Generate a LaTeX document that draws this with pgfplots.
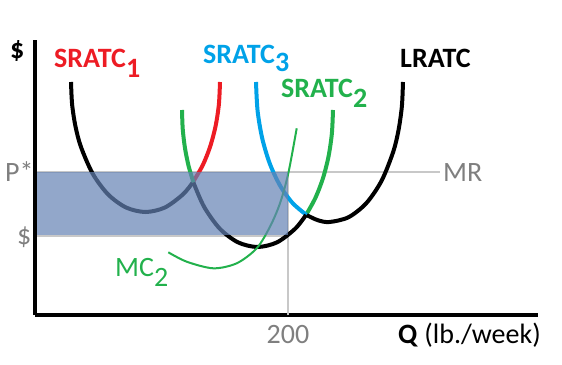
\documentclass[border=0pt]{standalone}
\usepackage{pgfplots}
\pgfplotsset{compat=1.18}
\usepackage{fontspec}
\setmainfont{Carlito}
\definecolor{cred}{HTML}{ED1C24}
\definecolor{cblue}{HTML}{00A2E8}
\definecolor{cgreen}{HTML}{22B14C}
\definecolor{cshade}{RGB}{100,130,180}
\definecolor{cgrayline}{RGB}{200,200,200}
\definecolor{cgraytext}{RGB}{127,127,127}
\newcommand{\lbl}{\fontsize{28}{30}\selectfont}
\begin{document}
\begin{tikzpicture}
\begin{axis}[
  x=1pt, y=1pt,
  xmin=0, xmax=503, ymin=0, ymax=275,
  axis lines=left,
  axis line style={-, line width=3.5pt, black},
  xtick={253}, xticklabels={200},
  ytick=\empty,
  major tick length=0pt,
  xticklabel style={font=\lbl, text=cgraytext, anchor=base, yshift=-28pt, inner sep=0pt},
  clip=false,
  every axis plot/.append style={no markers, smooth},
]
% gray guide lines
\addplot[cgrayline, line width=1.5pt, sharp plot] coordinates {(2,143) (405,143)};
\addplot[cgrayline, line width=1.5pt, sharp plot] coordinates {(2,79) (253,79)};
\addplot[cgrayline, line width=1.5pt, sharp plot] coordinates {(253,0) (253,143)};
% SRATC1 red arm
\addplot[cred, line width=4pt] coordinates {(157.38,131.98) (167.57,149.44) (175.02,168.0) (180.51,188.54) (183.87,210.43) (185.0,233.0)};
% SRATC2 green arms
\addplot[cgreen, line width=4pt] coordinates {(147.0,205.0) (147.73,185.93) (149.92,167.24) (153.53,149.28) (158.48,132.40)};
\addplot[cgreen, line width=4pt] coordinates {(271.03,100.06) (280.33,116.94) (287.88,136.5) (293.45,158.15) (296.85,181.21) (298.0,205.0)};
% SRATC3 blue arm
\addplot[cblue, line width=4pt] coordinates {(221.0,233.0) (222.61,203.89) (227.36,176.06) (235.04,150.71) (245.32,128.97) (257.75,111.76) (271.79,99.85)};
% LRATC envelope (black)
\addplot[black, line width=4pt] coordinates {(36.0,233.0) (37.13,210.43) (40.49,188.54) (45.98,168.0) (57.82,141.08) (73.25,120.42) (91.22,107.43) (110.5,103.0) (129.78,107.43) (147.75,120.42) (157.38,131.98)};
\addplot[black, line width=4pt] coordinates {(158.48,132.40) (169.11,108.13) (184.75,86.36) (202.96,72.67) (222.5,68.0) (242.04,72.67) (260.25,86.36) (271.03,100.06)};
\addplot[black, line width=4pt] coordinates {(271.79,99.85) (283.0,94.72) (294.5,93.0) (313.52,97.77) (331.25,111.76) (346.47,134.01) (358.15,163.0) (363.57,185.12) (366.88,208.70) (368.0,233.0)};
% MC2
\addplot[cgreen, line width=2pt] coordinates {(133.3,62.7) (151.7,53.3) (178.3,46.7) (201.7,51.7) (221.7,66.7) (235,88.3) (245,111.7) (253.3,141.7) (261.7,186.7)};
% shaded profit area
\addplot[draw=none, fill=cshade, fill opacity=0.7, sharp plot] coordinates {(2,79.5) (253,79.5) (253,142.5) (2,142.5)} -- cycle;
% labels
\node[anchor=base west, inner sep=0pt, font=\lbl\bfseries, text=cred] at (axis cs:19,247) {SRATC\raisebox{-10pt}{1}};
\node[anchor=base west, inner sep=0pt, font=\lbl\bfseries, text=cblue] at (axis cs:168,251) {SRATC\raisebox{-8pt}{3}};
\node[anchor=base west, inner sep=0pt, font=\lbl\bfseries, text=cgreen] at (axis cs:246,217) {SRATC\raisebox{-10pt}{2}};
\node[anchor=base west, inner sep=0pt, font=\lbl\bfseries, text=black] at (axis cs:365,247) {LRATC};
\node[anchor=base west, inner sep=0pt, font=\lbl, text=cgreen] at (axis cs:80,38) {MC\raisebox{-10pt}{2}};
\node[anchor=base west, inner sep=0pt, font=\lbl\bfseries, text=black] at (axis cs:-25,256) {\$};
\node[anchor=base west, inner sep=0pt, font=\lbl, text=cgraytext] at (axis cs:-30,133) {P*};
\node[anchor=base west, inner sep=0pt, font=\lbl, text=cgraytext] at (axis cs:-18,70) {\$};
\node[anchor=base west, inner sep=0pt, font=\lbl, text=cgraytext] at (axis cs:408,133) {MR};
\node[anchor=base west, inner sep=0pt, font=\lbl, text=black] at (axis cs:363,-28) {\textbf{Q} (lb./week)};
\coordinate (bbll) at (axis cs:-35,-49);
\coordinate (bbur) at (axis cs:527,315);
\end{axis}
\pgfresetboundingbox
\path (bbll) rectangle (bbur);
\end{tikzpicture}
\end{document}
